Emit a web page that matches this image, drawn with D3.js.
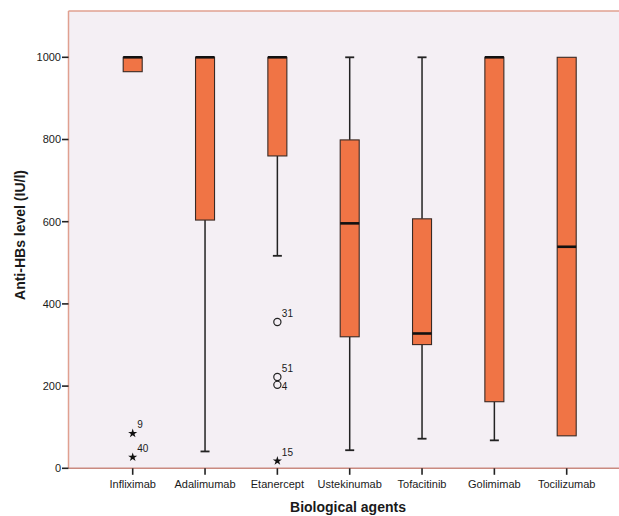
<!DOCTYPE html>
<html>
<head>
<meta charset="utf-8">
<script src="https://cdn.jsdelivr.net/npm/d3@7"></script>
<style>
  html, body { margin: 0; padding: 0; background: #ffffff; }
  svg { display: block; }
  text { font-family: Arial, "Liberation Sans", sans-serif; fill: #1a1a1a; }
</style>
</head>
<body>
<svg id="chart" width="619" height="516"></svg>
<script>
// Anti-HBs level by biological agent (box plot summaries)
const categories = ["Infliximab", "Adalimumab", "Etanercept", "Ustekinumab", "Tofacitinib", "Golimimab", "Tocilizumab"];
const whiskerLow  = [965,  41, 517,  44,  72,   68,   79];
const q1          = [965, 604, 760, 320, 301,  162,   79];
const median      = [1000, 1000, 1000, 596, 328, 1000, 539];
const q3          = [1000, 1000, 1000, 799, 607, 1000, 1000];
const whiskerHigh = [1000, 1000, 1000, 1000, 1000, 1000, 1000];

// Outlying cases: category, value, case id, marker type
const outlierCategory = ["Infliximab", "Infliximab", "Etanercept", "Etanercept", "Etanercept", "Etanercept"];
const outlierValue    = [85, 27, 356, 222, 203, 18];
const outlierId       = ["9", "40", "31", "51", "4", "15"];
const outlierType     = ["extreme", "extreme", "mild", "mild", "mild", "extreme"];

const yTicks = [0, 200, 400, 600, 800, 1000];

const svg = d3.select("#chart");

const plotLeft = 68.5, plotTop = 11, plotBottom = 468.3, plotRight = 640;

const y = d3.scaleLinear().domain([0, 1000]).range([468.3, 57.3]);
const x = d3.scalePoint().domain(categories).range([132.7, 566.7]);

const boxWidth = 19;
const frameColor = "#e0a090";

// plot background
svg.append("rect")
  .attr("x", plotLeft).attr("y", plotTop)
  .attr("width", plotRight - plotLeft).attr("height", plotBottom - plotTop)
  .attr("fill", "#f4eff4");

// frame lines
svg.append("line").attr("x1", plotLeft).attr("x2", plotRight).attr("y1", plotTop).attr("y2", plotTop)
  .attr("stroke", frameColor).attr("stroke-width", 1.5);
svg.append("line").attr("x1", plotLeft).attr("x2", plotLeft).attr("y1", plotTop).attr("y2", plotBottom)
  .attr("stroke", frameColor).attr("stroke-width", 1.5);
svg.append("line").attr("x1", plotLeft).attr("x2", plotRight).attr("y1", plotBottom).attr("y2", plotBottom)
  .attr("stroke", "#c98a80").attr("stroke-width", 1.5);

// y axis ticks and labels
const yAxis = svg.append("g");
yTicks.forEach(t => {
  yAxis.append("line")
    .attr("x1", plotLeft - 6.5).attr("x2", plotLeft)
    .attr("y1", y(t)).attr("y2", y(t))
    .attr("stroke", "#222").attr("stroke-width", 1.6);
  yAxis.append("text")
    .attr("x", plotLeft - 7.5).attr("y", y(t))
    .attr("dy", "0.36em")
    .attr("text-anchor", "end")
    .attr("font-size", 11)
    .text(t);
});

// x axis ticks and labels
const xAxis = svg.append("g");
categories.forEach(c => {
  xAxis.append("line")
    .attr("x1", x(c)).attr("x2", x(c))
    .attr("y1", plotBottom).attr("y2", plotBottom + 6.5)
    .attr("stroke", "#222").attr("stroke-width", 1.6);
  xAxis.append("text")
    .attr("x", x(c)).attr("y", 487.5)
    .attr("text-anchor", "middle")
    .attr("font-size", 11)
    .text(c);
});

// axis titles
svg.append("text")
  .attr("x", 348).attr("y", 512)
  .attr("text-anchor", "middle")
  .attr("font-size", 14).attr("font-weight", "bold")
  .text("Biological agents");

svg.append("text")
  .attr("transform", "translate(25,235) rotate(-90)")
  .attr("text-anchor", "middle")
  .attr("font-size", 14).attr("font-weight", "bold")
  .text("Anti-HBs level (IU/l)");

// boxes
const boxes = svg.append("g");
categories.forEach((c, i) => {
  const cx = x(c);
  const g = boxes.append("g");
  // lower whisker
  if (whiskerLow[i] < q1[i]) {
    g.append("line").attr("x1", cx).attr("x2", cx)
      .attr("y1", y(q1[i])).attr("y2", y(whiskerLow[i]))
      .attr("stroke", "#222").attr("stroke-width", 1.5);
    g.append("line").attr("x1", cx - 4.5).attr("x2", cx + 4.5)
      .attr("y1", y(whiskerLow[i])).attr("y2", y(whiskerLow[i]))
      .attr("stroke", "#222").attr("stroke-width", 1.8);
  }
  // upper whisker
  if (whiskerHigh[i] > q3[i]) {
    g.append("line").attr("x1", cx).attr("x2", cx)
      .attr("y1", y(q3[i])).attr("y2", y(whiskerHigh[i]))
      .attr("stroke", "#222").attr("stroke-width", 1.5);
    g.append("line").attr("x1", cx - 4.5).attr("x2", cx + 4.5)
      .attr("y1", y(whiskerHigh[i])).attr("y2", y(whiskerHigh[i]))
      .attr("stroke", "#222").attr("stroke-width", 1.8);
  }
  // box
  g.append("rect")
    .attr("x", cx - boxWidth / 2).attr("y", y(q3[i]))
    .attr("width", boxWidth).attr("height", y(q1[i]) - y(q3[i]))
    .attr("fill", "#f07445")
    .attr("stroke", "#3a2a24").attr("stroke-width", 1.1);
  // median
  g.append("line")
    .attr("x1", cx - boxWidth / 2).attr("x2", cx + boxWidth / 2)
    .attr("y1", y(median[i])).attr("y2", y(median[i]))
    .attr("stroke", "#111").attr("stroke-width", 2.6);
});

// outliers
const outs = svg.append("g");
outlierValue.forEach((v, i) => {
  const cx = x(outlierCategory[i]);
  const cy = y(v);
  if (outlierType[i] === "extreme") {
    outs.append("path")
      .attr("d", d3.symbol().type(d3.symbolStar).size(26)())
      .attr("transform", `translate(${cx},${cy})`)
      .attr("fill", "#111");
  } else {
    outs.append("circle")
      .attr("cx", cx).attr("cy", cy).attr("r", 3.6)
      .attr("fill", "none").attr("stroke", "#222").attr("stroke-width", 1.2);
  }
  const dy = outlierId[i] === "4" ? 5 : -5;
  outs.append("text")
    .attr("x", cx + 4.5).attr("y", cy + dy)
    .attr("font-size", 10)
    .text(outlierId[i]);
});
</script>
</body>
</html>
